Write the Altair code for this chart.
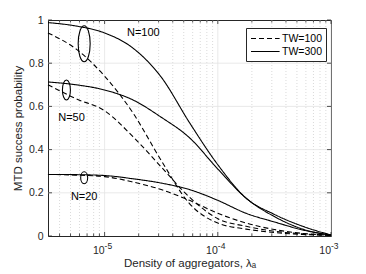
import altair as alt
import pandas as pd

# ---------------- data ----------------
density = [3.16e-6, 5.62e-6, 1e-5, 1.78e-5, 3.16e-5, 5.62e-5, 1e-4, 1.78e-4, 3.16e-4, 5.62e-4, 1e-3]

n100_tw300 = [0.988, 0.972, 0.940, 0.870, 0.736, 0.525, 0.330, 0.175, 0.100, 0.045, 0.005]
n50_tw300  = [0.713, 0.700, 0.676, 0.630, 0.550, 0.455, 0.310, 0.175, 0.090, 0.032, 0.004]
n20_tw300  = [0.285, 0.284, 0.280, 0.265, 0.245, 0.215, 0.165, 0.105, 0.065, 0.028, 0.004]
n100_tw100 = [0.940, 0.865, 0.740, 0.570, 0.350, 0.150, 0.060, 0.032, 0.016, 0.007, 0.003]
n50_tw100  = [0.700, 0.635, 0.580, 0.460, 0.320, 0.180, 0.080, 0.045, 0.022, 0.010, 0.004]
n20_tw100  = [0.285, 0.282, 0.275, 0.250, 0.215, 0.165, 0.105, 0.060, 0.030, 0.012, 0.004]

series = [
    ("N=100", "TW=300", n100_tw300),
    ("N=50", "TW=300", n50_tw300),
    ("N=20", "TW=300", n20_tw300),
    ("N=100", "TW=100", n100_tw100),
    ("N=50", "TW=100", n50_tw100),
    ("N=20", "TW=100", n20_tw100),
]

x_major = [1e-5, 1e-4, 1e-3]
x_major_exp = ["-5", "-4", "-3"]
x_minor = [4e-6, 5e-6, 6e-6, 7e-6, 8e-6, 9e-6,
           2e-5, 3e-5, 4e-5, 5e-5, 6e-5, 7e-5, 8e-5, 9e-5,
           2e-4, 3e-4, 4e-4, 5e-4, 6e-4, 7e-4, 8e-4, 9e-4]
y_ticks = [0, 0.2, 0.4, 0.6, 0.8, 1.0]
y_grid = [0.2, 0.4, 0.6, 0.8]

ann_text = ["N=100", "N=50", "N=20"]
ann_x = [2.2e-5, 5.1e-6, 6.6e-6]
ann_y = [0.94, 0.546, 0.18]

ell_x = [6.6e-6, 4.6e-6, 6.6e-6]
ell_y = [0.89, 0.676, 0.27]
ell_w = [12, 8, 7]
ell_h = [36, 20, 12]

# ---------------- tables ----------------
rows = []
for n, tw, vals in series:
    for x, v in zip(density, vals):
        rows.append({"x": x, "y": v, "n": n, "tw": tw})
df = pd.DataFrame(rows)

def ellipse_path(w, h):
    rx = w / h
    return f"M0,-1 A{rx:.3f},1 0 1,1 0,1 A{rx:.3f},1 0 1,1 0,-1 Z"

df_ell = pd.DataFrame({
    "x": ell_x, "y": ell_y,
    "shape": [ellipse_path(w, h) for w, h in zip(ell_w, ell_h)],
    "size": [h * h for h in ell_h],
})
df_ann = pd.DataFrame({"x": ann_x, "y": ann_y, "t": ann_text})
df_xmaj = pd.DataFrame({"x": x_major, "e": x_major_exp, "b": ["10"] * len(x_major)})
df_xmin = pd.DataFrame({"x": x_minor})
df_yt = pd.DataFrame({"y": y_ticks})
df_yg = pd.DataFrame({"y": y_grid})

W, H = 283, 216
FONT = "Liberation Sans"
TXT = "#262626"

xscale = alt.Scale(type="log", domain=[10 ** -5.5, 1e-3], nice=False)
yscale = alt.Scale(domain=[0, 1], nice=False, zero=False)

xaxis = alt.Axis(title="Density of aggregators, λₐ", grid=False, labels=False, ticks=False,
                 domain=False, titleFont=FONT, titleFontSize=11.5, titleFontWeight="normal",
                 titleColor=TXT, titleY=30, titleBaseline="alphabetic")
yaxis = alt.Axis(title="MTD success probability", grid=False, ticks=False, domain=False,
                 values=y_ticks, format="~g", labelFont=FONT, labelFontSize=10.5,
                 labelColor=TXT, labelPadding=5,
                 titleFont=FONT, titleFontSize=11.5, titleFontWeight="normal",
                 titleColor=TXT, titleX=-30, titleY=H / 2, titleAngle=-90,
                 titleAlign="center", titleBaseline="middle")

X = lambda: alt.X("x:Q", scale=xscale, axis=xaxis)
Y = lambda: alt.Y("y:Q", scale=yscale, axis=yaxis)

grid_minor = alt.Chart(df_xmin).mark_rule(color="#d0d0d0", strokeWidth=0.8, strokeDash=[1, 2]).encode(x=X())
grid_major = alt.Chart(df_xmaj).mark_rule(color="#e3e3e3", strokeWidth=0.8).encode(x=X())
grid_y = alt.Chart(df_yg).mark_rule(color="#e3e3e3", strokeWidth=0.8).encode(y=Y())

tk_xmaj_b = alt.Chart(df_xmaj).mark_rule(color=TXT, strokeWidth=0.8).encode(x=X(), y=alt.value(H), y2=alt.value(H - 4))
tk_xmaj_t = alt.Chart(df_xmaj).mark_rule(color=TXT, strokeWidth=0.8).encode(x=X(), y=alt.value(0), y2=alt.value(4))
tk_xmin_b = alt.Chart(df_xmin).mark_rule(color=TXT, strokeWidth=0.8).encode(x=X(), y=alt.value(H), y2=alt.value(H - 2.5))
tk_xmin_t = alt.Chart(df_xmin).mark_rule(color=TXT, strokeWidth=0.8).encode(x=X(), y=alt.value(0), y2=alt.value(2.5))
tk_y_l = alt.Chart(df_yt).mark_rule(color=TXT, strokeWidth=0.8).encode(y=Y(), x=alt.value(0), x2=alt.value(4))
tk_y_r = alt.Chart(df_yt).mark_rule(color=TXT, strokeWidth=0.8).encode(y=Y(), x=alt.value(W), x2=alt.value(W - 4))

lbl_base = alt.Chart(df_xmaj).mark_text(font=FONT, fontSize=10.5, color=TXT, align="right",
                                        baseline="alphabetic", dx=0).encode(
    x=X(), y=alt.value(H + 18), text="b:N")
lbl_exp = alt.Chart(df_xmaj).mark_text(font=FONT, fontSize=8.5, color=TXT, align="left",
                                       baseline="alphabetic", dx=0).encode(
    x=X(), y=alt.value(H + 13), text="e:N")

lines = alt.Chart(df).mark_line(color="black", strokeWidth=1.1, interpolate="monotone").encode(
    x=X(), y=Y(),
    strokeDash=alt.StrokeDash(
        "tw:N",
        scale=alt.Scale(domain=["TW=100", "TW=300"], range=[[5, 3], [1, 0]]),
        legend=alt.Legend(orient="none", legendX=198, legendY=8, title=None,
                          symbolType="M-1,0L4.2,0", symbolSize=121, symbolStrokeWidth=1.1,
                          symbolStrokeColor="black", symbolFillColor="transparent",
                          labelFont=FONT, labelFontSize=10.5,
                          labelColor="black", strokeColor=TXT, fillColor="white",
                          padding=4, rowPadding=1, labelOffset=19),
    ),
    detail="n:N",
)

ellipses = alt.Chart(df_ell).mark_point(filled=False, color="black", strokeWidth=1.1, opacity=1).encode(
    x=X(), y=Y(),
    shape=alt.Shape("shape:N", scale=None),
    size=alt.Size("size:Q", scale=None),
)

ann = alt.Chart(df_ann).mark_text(font=FONT, fontSize=11, color="black").encode(
    x=X(), y=Y(), text="t:N")

chart = alt.layer(
    grid_minor, grid_major, grid_y,
    tk_xmin_b, tk_xmin_t, tk_xmaj_b, tk_xmaj_t, tk_y_l, tk_y_r,
    lbl_base, lbl_exp,
    lines, ellipses, ann,
).properties(
    width=W, height=H,
    autosize=alt.AutoSizeParams(type="none"),
    padding={"left": 40, "top": 12, "right": 27, "bottom": 36},
    background="white",
).configure_view(stroke=TXT, strokeWidth=1)

chart.save("out.html", embed_options={"renderer": "svg", "actions": False})
